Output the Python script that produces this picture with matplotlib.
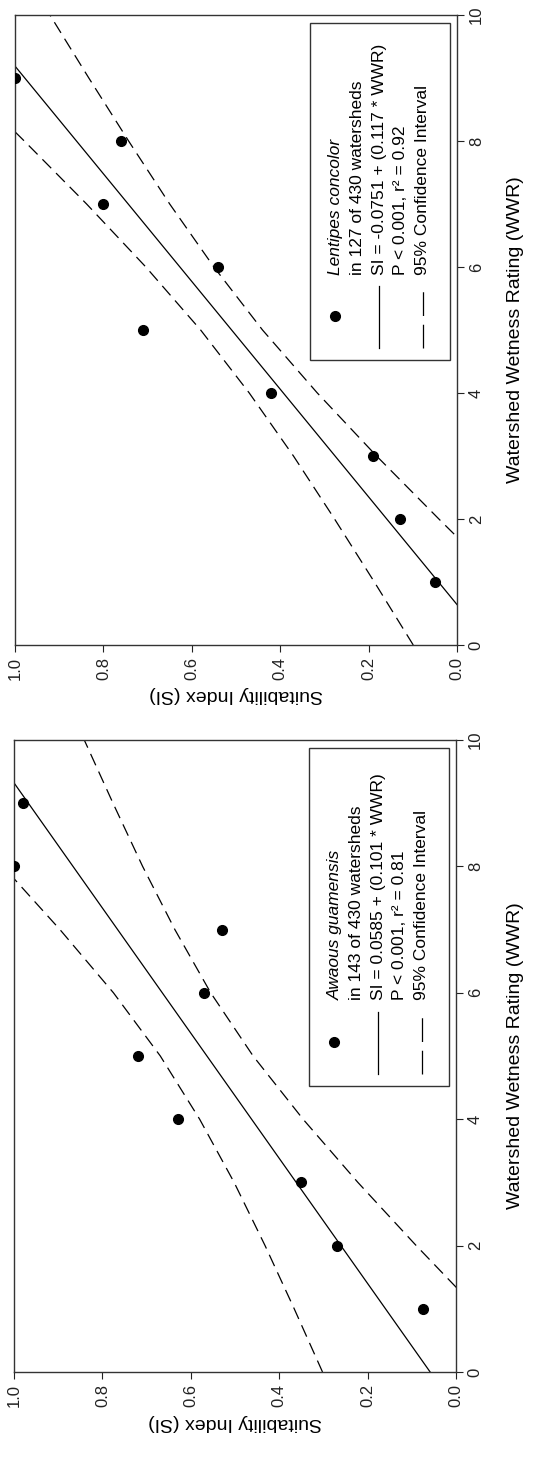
import matplotlib
matplotlib.use("Agg")
import matplotlib.pyplot as plt
from matplotlib.patches import Rectangle
from matplotlib.lines import Line2D

plt.rcParams["font.family"] = ["Liberation Sans", "DejaVu Sans"]

# watershed wetness rating of the plotted points
wwr = [1, 2, 3, 4, 5, 6, 7, 8, 9]

# suitability index per species
lentipes_si = [0.05, 0.13, 0.19, 0.42, 0.71, 0.54, 0.80, 0.76, 1.00]
awaous_si = [0.075, 0.27, 0.35, 0.63, 0.72, 0.57, 0.53, 1.00, 0.98]

# regression line ends
fit_wwr = [0, 10]
lentipes_fit = [-0.0751, 1.0949]
awaous_fit = [0.0585, 1.0685]

# 95% confidence bands
ci_wwr = [0, 1, 2, 3, 4, 5, 6, 7, 8, 9, 10]
lentipes_ci_hi = [0.099, 0.187, 0.277, 0.370, 0.470, 0.580, 0.704, 0.838, 0.979, 1.123, 1.269]
lentipes_ci_lo = [-0.249, -0.103, 0.041, 0.182, 0.316, 0.440, 0.550, 0.650, 0.743, 0.833, 0.921]
awaous_ci_hi = [0.302, 0.366, 0.432, 0.502, 0.580, 0.669, 0.775, 0.896, 1.025, 1.160, 1.297]
awaous_ci_lo = [-0.185, -0.047, 0.090, 0.222, 0.346, 0.459, 0.555, 0.636, 0.709, 0.776, 0.841]

si_ticks = [0.0, 0.2, 0.4, 0.6, 0.8, 1.0]
si_ticklabels = ["0.0", "0.2", "0.4", "0.6", "0.8", "1.0"]
wwr_ticks = [0, 2, 4, 6, 8, 10]

panels = [
    {"species": "Lentipes concolor", "count": "in 127 of 430 watersheds",
     "eq": "SI = -0.0751 + (0.117 * WWR)", "stat": "P < 0.001, r\u00b2 = 0.92",
     "si": lentipes_si, "fit": lentipes_fit,
     "hi": lentipes_ci_hi, "lo": lentipes_ci_lo},
    {"species": "Awaous guamensis", "count": "in 143 of 430 watersheds",
     "eq": "SI = 0.0585 + (0.101 * WWR)", "stat": "P < 0.001, r\u00b2 = 0.81",
     "si": awaous_si, "fit": awaous_fit,
     "hi": awaous_ci_hi, "lo": awaous_ci_lo},
]

W, H = 536, 1463
fig = plt.figure(figsize=(W / 100, H / 100), dpi=100)

# axes boxes in pixels (left, top, right, bottom) - whole figure is turned 90 deg
boxes = [(15, 15, 457, 645), (14, 740, 456, 1372)]

dash = (10, 5.5)
fs = 12

for p, (l, t, r, b) in zip(panels, boxes):
    ax = fig.add_axes([l / W, 1 - b / H, (r - l) / W, (b - t) / H])

    ax.plot(p["si"], wwr, "o", color="black", markersize=7, zorder=5)
    ax.plot(p["fit"], fit_wwr, "-", color="black", linewidth=0.9)
    ax.plot(p["hi"], ci_wwr, color="black", linewidth=0.9, dashes=dash)
    ax.plot(p["lo"], ci_wwr, color="black", linewidth=0.9, dashes=dash)

    ax.set_xlim(1.0, 0.0)
    ax.set_ylim(0, 10)
    ax.set_xticks(si_ticks)
    ax.set_xticklabels(si_ticklabels, rotation=90, fontsize=fs)
    ax.set_yticks(wwr_ticks)
    ax.set_yticklabels([str(v) for v in wwr_ticks], rotation=90, fontsize=fs,
                       va="center")
    ax.yaxis.tick_right()
    ax.tick_params(direction="out", length=5, width=0.8, colors="#222222")
    for s in ax.spines.values():
        s.set_linewidth(1.0)
        s.set_color("#333333")

    # hand made legend, turned like the rest
    ax.add_patch(Rectangle((0.667, 0.452), 0.318, 0.536, transform=ax.transAxes,
                           facecolor="white", edgecolor="#333333",
                           linewidth=1.0, zorder=6))
    ax.add_line(Line2D([0.724], [0.522], transform=ax.transAxes, marker="o",
                       markersize=7, color="black", linestyle="", zorder=7))
    ax.add_line(Line2D([0.824, 0.824], [0.472, 0.570], transform=ax.transAxes,
                       color="black", linewidth=0.9, zorder=7))
    ax.add_line(Line2D([0.923, 0.923], [0.472, 0.570], transform=ax.transAxes,
                       color="black", linewidth=0.9, dashes=(19, 7), zorder=7))
    rows = [(0.726, p["species"], "italic"), (0.775, p["count"], "normal"),
            (0.824, p["eq"], "normal"), (0.873, p["stat"], "normal"),
            (0.923, "95% Confidence Interval", "normal")]
    for x, txt, style in rows:
        ax.text(x, 0.588, txt, transform=ax.transAxes, rotation=90,
                rotation_mode="anchor", ha="left", va="center",
                fontsize=12.5, fontstyle=style, zorder=8)

    cy = 1 - (t + b) / 2 / H
    fig.text(516 / W, cy, "Watershed Wetness Rating (WWR)", rotation=90,
             ha="center", va="center", fontsize=14)
    fig.text((l + r) / 2 / W, 1 - (b + 50) / H, "Suitability Index (SI)",
             rotation=180, ha="center", va="center", fontsize=14)

fig.savefig("out.png", dpi=100)
